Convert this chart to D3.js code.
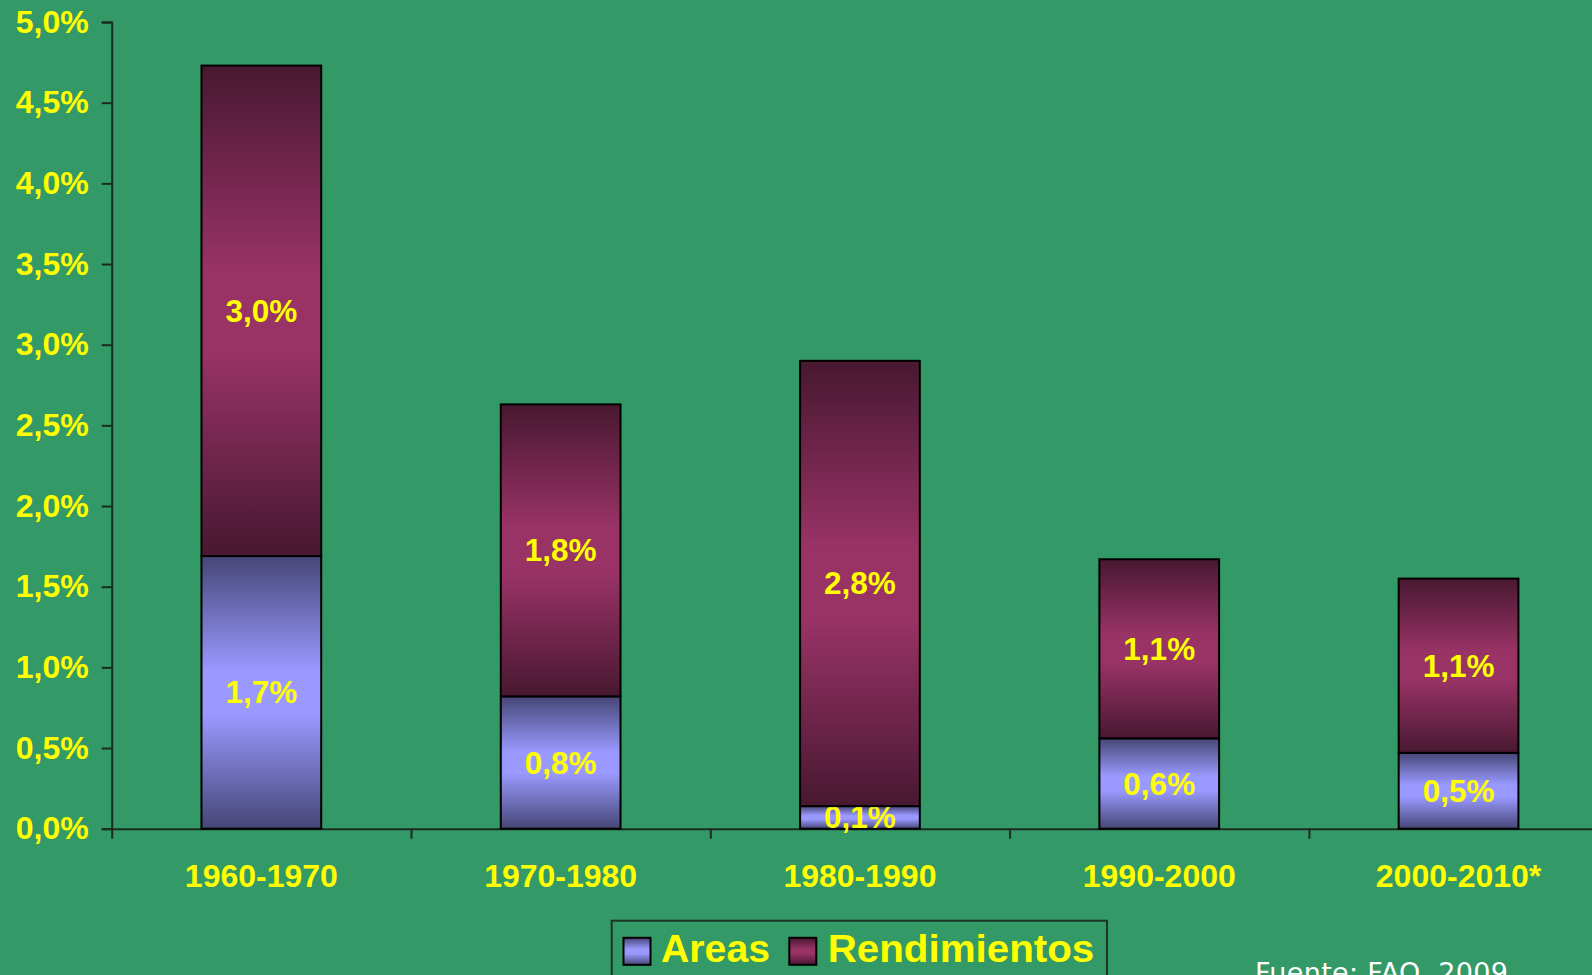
<!DOCTYPE html>
<html>
    <head>
        <meta charset="utf-8">
        <title>Crecimiento: Areas y Rendimientos</title>
        <script type="text/javascript" src="https://d3js.org/d3.v7.min.js"></script>
        <style>
            body { margin: 0; background: #339966; }
            svg { display: block; }
        </style>
    </head>
    <body>
        <div id="container"></div>
        <script>
        //-----------------------------DATA-----------------------------//
        const periodos = ["1960-1970", "1970-1980", "1980-1990", "1990-2000", "2000-2010*"];
        const areas = [1.69, 0.82, 0.14, 0.56, 0.47];
        const rendimientos = [3.04, 1.81, 2.76, 1.11, 1.08];
        const yTicks = [0, 0.5, 1, 1.5, 2, 2.5, 3, 3.5, 4, 4.5, 5];
        const series = ["Areas", "Rendimientos"];
        const fuente = "Fuente: FAO, 2009";

        //------------------------1. PREPARATION------------------------//
        const width = 1592;
        const height = 975;
        const x0 = 111.7;
        const slot = 299.3;
        const yTop = 22;
        const yBottom = 828.7;
        const font = "'Liberation Sans', Arial, sans-serif";
        const yellow = "#ffff00";

        const svg = d3.select("div#container").append("svg")
            .attr("width", width)
            .attr("height", height)
            .style("background", "#339966");

        // gradients (dark - light - dark), like the Excel fill
        const defs = svg.append("defs");
        const grads = [
            { id: "g-areas", dark: "#464676", light: "#9999ff" },
            { id: "g-rend", dark: "#481830", light: "#993366" }
        ];
        grads.forEach(function(g) {
            const lg = defs.append("linearGradient")
                .attr("id", g.id)
                .attr("x1", 0).attr("y1", 0)
                .attr("x2", 0).attr("y2", 1);
            lg.append("stop").attr("offset", "0%").attr("stop-color", g.dark);
            lg.append("stop").attr("offset", "42%").attr("stop-color", g.light);
            lg.append("stop").attr("offset", "58%").attr("stop-color", g.light);
            lg.append("stop").attr("offset", "100%").attr("stop-color", g.dark);
        });

        //----------------------------SCALES----------------------------//
        const xScale = d3.scaleBand()
            .domain(periodos)
            .range([x0, x0 + slot * periodos.length])
            .paddingInner(0.6)
            .paddingOuter(0.3);

        const xBounds = d3.scaleLinear()
            .domain([0, periodos.length])
            .range([x0, x0 + slot * periodos.length]);

        const yScale = d3.scaleLinear()
            .domain([0, 5])
            .range([yBottom, yTop]);

        const fmt = function(v) { return d3.format(".1f")(v).replace(".", ",") + "%"; };

        //-----------------------------AXES-----------------------------//
        const yaxis = d3.axisLeft(yScale)
            .tickValues(yTicks)
            .tickFormat(fmt)
            .tickSize(10)
            .tickPadding(13);

        const gy = svg.append("g")
            .attr("transform", "translate(" + x0 + ",0)")
            .call(yaxis);
        gy.select(".domain").attr("stroke", "#1c2b22").attr("stroke-width", 2);
        gy.selectAll(".tick line").attr("stroke", "#1c2b22").attr("stroke-width", 2);
        gy.selectAll(".tick text")
            .attr("fill", yellow)
            .style("font-family", font)
            .style("font-weight", "bold")
            .style("font-size", "32px");

        // x axis: boundary ticks
        const xaxis = d3.axisBottom(xBounds)
            .tickValues(d3.range(periodos.length + 1))
            .tickFormat("")
            .tickSize(10)
            .tickSizeOuter(0);
        const gx = svg.append("g")
            .attr("transform", "translate(0," + yBottom + ")")
            .call(xaxis);
        gx.select(".domain").attr("stroke", "#1c2b22").attr("stroke-width", 2);
        gx.selectAll(".tick line").attr("stroke", "#1c2b22").attr("stroke-width", 2);

        svg.append("g").selectAll("text")
            .data(periodos)
            .enter()
            .append("text")
            .attr("x", function(d) { return xScale(d) + xScale.bandwidth() / 2; })
            .attr("y", yBottom + 47)
            .attr("dy", "0.35em")
            .attr("text-anchor", "middle")
            .attr("fill", yellow)
            .style("font-family", font)
            .style("font-weight", "bold")
            .style("font-size", "32px")
            .text(function(d) { return d; });

        //-----------------------------BARS-----------------------------//
        const stackData = periodos.map(function(p, i) {
            return { periodo: p, Areas: areas[i], Rendimientos: rendimientos[i] };
        });
        const stacked = d3.stack().keys(series)(stackData);
        const fills = { Areas: "url(#g-areas)", Rendimientos: "url(#g-rend)" };

        const layers = svg.append("g").selectAll("g")
            .data(stacked)
            .enter()
            .append("g");

        layers.selectAll("rect")
            .data(function(d) { return d.map(function(s) { return { key: d.key, s: s }; }); })
            .enter()
            .append("rect")
            .attr("x", function(d) { return xScale(d.s.data.periodo); })
            .attr("width", xScale.bandwidth())
            .attr("y", function(d) { return yScale(d.s[1]); })
            .attr("height", function(d) { return yScale(d.s[0]) - yScale(d.s[1]); })
            .attr("fill", function(d) { return fills[d.key]; })
            .attr("stroke", "#000")
            .attr("stroke-width", 2);

        layers.selectAll("text")
            .data(function(d) { return d.map(function(s) { return { key: d.key, s: s }; }); })
            .enter()
            .append("text")
            .attr("x", function(d) { return xScale(d.s.data.periodo) + xScale.bandwidth() / 2; })
            .attr("y", function(d) { return (yScale(d.s[0]) + yScale(d.s[1])) / 2; })
            .attr("dy", "0.35em")
            .attr("text-anchor", "middle")
            .attr("fill", yellow)
            .style("font-family", font)
            .style("font-weight", "bold")
            .style("font-size", "31.5px")
            .text(function(d) { return fmt(d.s[1] - d.s[0]); });

        //----------------------------LEGEND----------------------------//
        const legend = svg.append("g");
        legend.append("rect")
            .attr("x", 611.7)
            .attr("y", 920.7)
            .attr("width", 495.3)
            .attr("height", 80)
            .attr("fill", "none")
            .attr("stroke", "#1c3527")
            .attr("stroke-width", 2);

        const legendItems = [
            { key: "Areas", sx: 623.5, tx: 661, tw: 109 },
            { key: "Rendimientos", sx: 789.3, tx: 827.7, tw: 266.6 }
        ];
        legendItems.forEach(function(it) {
            legend.append("rect")
                .attr("x", it.sx)
                .attr("y", 937.8)
                .attr("width", 27)
                .attr("height", 27)
                .attr("fill", fills[it.key])
                .attr("stroke", "#000")
                .attr("stroke-width", 2);
            legend.append("text")
                .attr("x", it.tx)
                .attr("y", 962)
                .attr("fill", yellow)
                .attr("textLength", it.tw)
                .attr("lengthAdjust", "spacingAndGlyphs")
                .style("font-family", font)
                .style("font-weight", "bold")
                .style("font-size", "39px")
                .text(it.key);
        });

        //----------------------------SOURCE----------------------------//
        // the source note sits at the bottom edge, partly cut as in the original slide
        svg.append("text")
            .attr("x", 1255)
            .attr("y", 981.5)
            .attr("fill", "#ffffff")
            .attr("textLength", 253)
            .attr("lengthAdjust", "spacing")
            .style("font-family", "'DejaVu Sans', Verdana, sans-serif")
            .style("font-size", "27px")
            .text(fuente);
        </script>
    </body>
</html>
